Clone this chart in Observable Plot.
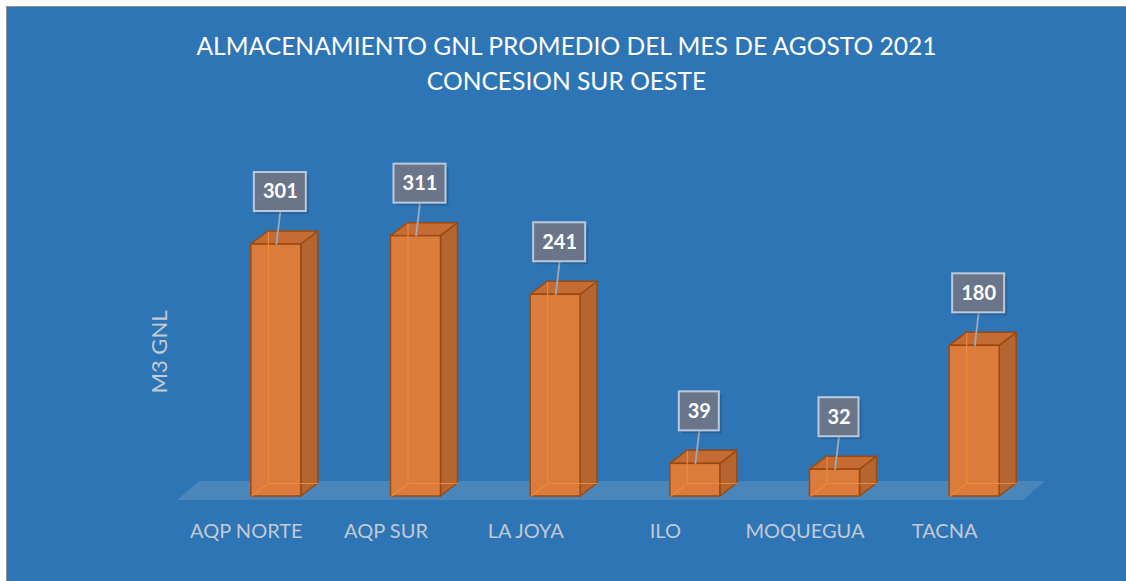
<!DOCTYPE html>
<html>
<head>
<meta charset="utf-8">
<script src="https://cdn.jsdelivr.net/npm/d3@7"></script>
<script src="https://cdn.jsdelivr.net/npm/@observablehq/plot@0.6"></script>
<style>
  html, body { margin: 0; padding: 0; background: #ffffff; }
  #wrap { position: relative; width: 1126px; height: 581px; overflow: hidden; }
  #panel { position: absolute; left: 6px; top: 6px; width: 1120px; height: 575px;
           background: #2E75B6; border-top: 1px solid #8f8f8f; border-left: 1px solid #8f8f8f; }
  #title { position: absolute; left: 7px; top: 0; width: 1119px; text-align: center;
           font-family: Lato, "Open Sans", sans-serif; color: #ffffff; font-size: 24.6px; line-height: 35px;
           padding-top: 28px; }
  #chart { position: absolute; left: 0; top: 0; }
  #chart text.ylab { letter-spacing: 2px; }
</style>
</head>
<body>
<div id="wrap">
  <div id="panel"></div>
  <div id="chart"></div>
  <div id="title"></div>
</div>
<script>
// ---- data ----
const titleLines = ["ALMACENAMIENTO GNL PROMEDIO DEL MES DE AGOSTO 2021", "CONCESION SUR OESTE"];
const categories = ["AQP NORTE", "AQP SUR", "LA JOYA", "ILO", "MOQUEGUA", "TACNA"];
const values = [301, 311, 241, 39, 32, 180];
const yLabel = "M3 GNL";

document.getElementById("title").innerHTML = titleLines.join("<br>");

// ---- layout ----
const W = 1126, H = 581;
const mL = 206, mR = 82, mT = 203, mB = 85;
const yMax = 350;
const kY = (H - mT - mB) / yMax;            // px per y unit
const kX = (W - mL - mR) / categories.length; // px per x unit
const hw = 25 / kX;       // half bar width (x units)
const dX = 17 / kX;       // depth offset x
const dY = 13 / kY;       // depth offset y

const bars = categories.map((c, i) => ({i, c, v: values[i]}));

const sideFace = bars.flatMap(b => [
  {z: b.i, x: b.i + hw, y1: 0, y2: b.v},
  {z: b.i, x: b.i + hw + dX, y1: dY, y2: b.v + dY}
]);
const topFace = bars.flatMap(b => [
  {z: b.i, x: b.i - hw, y1: b.v, y2: b.v},
  {z: b.i, x: b.i - hw + dX, y1: b.v, y2: b.v + dY},
  {z: b.i, x: b.i + hw, y1: b.v, y2: b.v + dY},
  {z: b.i, x: b.i + hw + dX, y1: b.v + dY, y2: b.v + dY}
]);
const innerEdges = bars.flatMap(b => [
  {x1: b.i - hw, y1: 0, x2: b.i - hw + dX, y2: dY},
  {x1: b.i - hw + dX, y1: dY, x2: b.i + hw + dX, y2: dY},
  {x1: b.i - hw + dX, y1: dY, x2: b.i - hw + dX, y2: b.v + dY}
]);

// floor
const fL = -0.5 - 29 / kX, fR = categories.length - 0.5 - 21 / kX, fD = 22 / kX;
const fLo = -4 / kY, fHi = 15 / kY;
const floorPts = [
  {x: fL, y1: fLo, y2: fLo},
  {x: fL + fD, y1: fLo, y2: fHi},
  {x: fR, y1: fLo, y2: fHi},
  {x: fR + fD, y1: fHi, y2: fHi}
];

// label boxes
const gap = 33 / kY, boxH = 39 / kY, offX = 4 / kX;
const boxes = bars.map(b => {
  const w = (16 + 12 * String(b.v).length) / kX;
  return {x1: b.i + offX - w / 2, x2: b.i + offX + w / 2, y1: b.v + gap, y2: b.v + gap + boxH,
          xc: b.i + offX, yc: b.v + gap + boxH / 2, v: b.v, i: b.i};
});

const chart = Plot.plot({
  width: W, height: H,
  marginLeft: mL, marginRight: mR, marginTop: mT, marginBottom: mB,
  x: {domain: [-0.5, categories.length - 0.5]},
  y: {domain: [0, yMax], axis: null},
  style: {background: "transparent", fontFamily: "Lato, 'Open Sans', sans-serif", overflow: "visible"},
  marks: [
    Plot.areaY(floorPts, {x: "x", y1: "y1", y2: "y2", fill: "#b8c2cc", fillOpacity: 0.22}),
    Plot.areaY(sideFace, {x: "x", y1: "y1", y2: "y2", z: "z", fill: "#B5652F", stroke: "#9A4912", strokeWidth: 1.5}),
    Plot.areaY(topFace, {x: "x", y1: "y1", y2: "y2", z: "z", fill: "#C46C33", stroke: "#9A4912", strokeWidth: 1.5}),
    Plot.rect(bars, {x1: d => d.i - hw, x2: d => d.i + hw, y1: 0, y2: "v", fill: "#DC7C3C", stroke: "#9A4912", strokeWidth: 1.5}),
    Plot.link(innerEdges, {x1: "x1", y1: "y1", x2: "x2", y2: "y2", stroke: "#F28C3A", strokeWidth: 1.2, strokeOpacity: 0.9}),
    Plot.link(boxes, {x1: "i", y1: "v", x2: "xc", y2: "y1", stroke: "#9FA9B8", strokeWidth: 1.8}),
    Plot.rect(boxes, {x1: "x1", x2: "x2", y1: "y1", y2: "y2", fill: "#000", fillOpacity: 0.15, dx: 3, dy: 3}),
    Plot.rect(boxes, {x1: "x1", x2: "x2", y1: "y1", y2: "y2", fill: "#6A7589", stroke: "#BBC9DC", strokeWidth: 2}),
    Plot.text(boxes, {x: "xc", y: "yc", text: d => String(d.v), fill: "#ffffff", fontSize: 20, fontWeight: "bold"}),
    Plot.axisX(d3.range(categories.length), {tickFormat: i => categories[i], tickSize: 0, tickPadding: 27,
      fontSize: 20, fill: "#C3CAD4", dx: -30, label: null}),
    Plot.text([yLabel], {frameAnchor: "left", textAnchor: "middle", lineAnchor: "middle", rotate: -90,
      dx: -47, dy: 2, fontSize: 22, fill: "#C3CAD4", ariaLabel: "ylabel"})
  ]
});
d3.select(chart).selectAll('g[aria-label="ylabel"] text').classed("ylab", true);
document.getElementById("chart").appendChild(chart);
</script>
</body>
</html>
